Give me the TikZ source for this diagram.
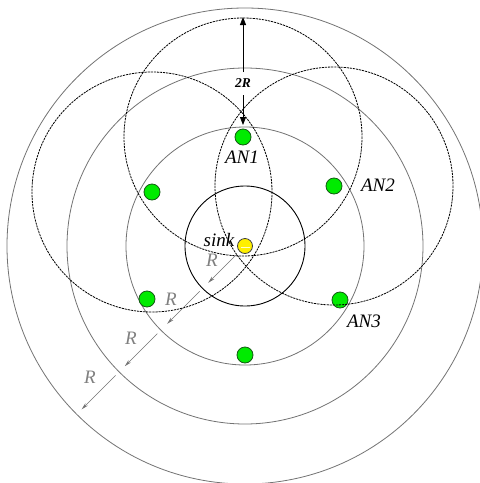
\documentclass[tikz,border=0pt]{standalone}
\usepackage{fontspec}
\setmainfont{Liberation Serif}
\usetikzlibrary{arrows.meta,calc}
\definecolor{ngreen}{RGB}{0,235,0}
\definecolor{ngreenb}{RGB}{20,90,20}
\definecolor{nyellow}{RGB}{255,240,0}
\tikzset{
  ring/.style={draw=black!55, line width=0.8pt},
  inner ring/.style={draw=black, line width=0.9pt},
  cover/.style={draw=black, line width=0.8pt, dash pattern=on 2.2pt off 0.9pt},
  an/.style={circle, draw=ngreenb, fill=ngreen, line width=0.8pt, minimum size=16pt, inner sep=0pt},
  sinknode/.style={circle, draw=black!75, fill=nyellow, line width=0.8pt, minimum size=15pt, inner sep=0pt},
  lab/.style={font=\fontsize{19}{19}\selectfont\itshape, inner sep=0pt},
  rlab/.style={font=\fontsize{19}{19}\selectfont\itshape, text=black!50, inner sep=0pt},
  rarrow/.style={draw=black!55, line width=0.6pt, -{Stealth[length=7pt,width=3.5pt]}},
  darrow/.style={draw=black, line width=0.8pt, -{Triangle[length=8pt,width=6pt]}}
}
\begin{document}
\begin{tikzpicture}[x=1pt,y=-1pt]
\useasboundingbox (0,0) rectangle (480,483);
\coordinate (c) at (245,246);
% concentric rings
\draw[ring] (c) circle[radius=238];
\draw[ring] (c) circle[radius=178];
\draw[ring] (c) circle[radius=119];
\draw[inner ring] (c) circle[radius=60];
% anchor nodes
\node[an] (an1) at (243,137) {};
\node[an] (an2) at (334,186) {};
\node[an] (anl) at (152,192) {};
\node[an] (an3) at (340,300) {};
\node[an] (anll) at (147,299) {};
\node[an] (anb) at (245,355) {};
% coverage circles
\draw[cover] (an1) circle[radius=119];
\draw[cover] (anl) circle[radius=120];
\draw[cover] (an2) circle[radius=119];
% sink
\node[sinknode] (sink) at (c) {};
\draw[white!80!yellow, line width=0.8pt] (241,247) -- (250,247);
% labels
\node[lab] (l1) at (242,157) {AN1};
\node[lab] (l2) at (378,185) {AN2};
\node[lab] (l3) at (364,321) {AN3};
\node[lab] (ls) at (219,240) {sink};
% 2R arrow
\coordinate (t1) at (243,17);
\coordinate (t2) at (243,125);
\node[font=\fontsize{13.5}{13.5}\selectfont\bfseries\itshape, inner sep=0pt] (tr) at (243,83) {2R};
\coordinate (u1) at (243,72);
\coordinate (u2) at (243,95);
\draw[darrow] (u1) -- (t1);
\draw[darrow] (u2) -- (t2);
% radius arrows
\foreach \a/\b/\n in {12/52/1, 64/110/2, 124/170/3, 183/231/4}{
  \draw[rarrow] ($(c)+(-\a*0.7071,\a*0.7071)$) -- ($(c)+(-\b*0.7071,\b*0.7071)$);
}
\node[rlab] (r1) at (212,260) {R};
\node[rlab] (r2) at (171,299) {R};
\node[rlab] (r3) at (131,338) {R};
\node[rlab] (r4) at (90,377) {R};
\end{tikzpicture}
\end{document}
